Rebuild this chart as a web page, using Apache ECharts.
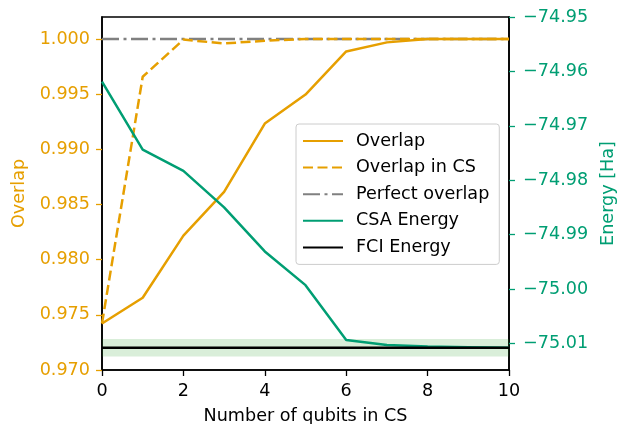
<!DOCTYPE html>
<html>
<head>
<meta charset="utf-8">
<script src="https://cdn.jsdelivr.net/npm/echarts@6/dist/echarts.min.js"></script>
<style>
html, body { margin: 0; padding: 0; background: #fff; }
#main { width: 620px; height: 424px; }
</style>
</head>
<body>
<div id="main"></div>
<script>
// qubits in the CS
var qubits = [0, 1, 2, 3, 4, 5, 6, 7, 8, 9, 10];
// overlap with the full wavefunction
var overlap = [0.97422, 0.97655, 0.98218, 0.98615, 0.99234, 0.99497, 0.99888, 0.99970, 1.0, 1.0, 1.0];
// overlap restricted to the CS
var overlapCS = [0.97422, 0.99658, 0.99995, 0.99960, 0.99985, 1.0, 1.0, 1.0, 1.0, 1.0, 1.0];
// CSA energy in Ha
var csaEnergy = [-74.9619, -74.9744, -74.9783, -74.9850, -74.9931, -74.9993, -75.0094, -75.0103, -75.0106, -75.0107, -75.0108];
var fciEnergy = -75.0108;
var chemAcc = 0.0016;
var perfect = 1.0;

var overlapTicks = [0.970, 0.975, 0.980, 0.985, 0.990, 0.995, 1.000];
var energyTicks = [-75.01, -75.00, -74.99, -74.98, -74.97, -74.96, -74.95];

var ORANGE = '#E69F00', GREEN = '#009E73';
var chart = echarts.init(document.getElementById('main'));

function pairs(ys) {
    return qubits.map(function (q, i) { return [q, ys[i]]; });
}
var font = 'DejaVu Sans';
var fs = 17.6;

var option = {
    backgroundColor: '#fff',
    animation: false,
    grid: {
        left: 102, right: 111, top: 17, bottom: 54,
        outerBoundsMode: 'none', containLabel: false,
        show: true, borderColor: '#000', borderWidth: 1.6, backgroundColor: 'transparent'
    },
    legend: {
        orient: 'vertical',
        left: 296, top: 124,
        padding: [8, 10, 8, 6],
        itemWidth: 40, itemHeight: 14, itemGap: 8.6,
        backgroundColor: 'rgba(255,255,255,0.85)',
        borderColor: '#ccc', borderWidth: 1, borderRadius: 3,
        itemStyle: { opacity: 0 },
        textStyle: { fontFamily: font, fontSize: fs, color: '#000', padding: [0, 0, 0, 8] },
        data: ['Overlap', 'Overlap in CS', 'Perfect overlap', 'CSA Energy', 'FCI Energy']
    },
    xAxis: {
        type: 'value', min: 0, max: 10, interval: 2,
        name: 'Number of qubits in CS', nameLocation: 'middle', nameGap: 37,
        nameTextStyle: { fontFamily: font, fontSize: fs, color: '#000' },
        axisLine: { lineStyle: { color: '#000', width: 1.6 } },
        axisTick: { length: 6, lineStyle: { color: '#000', width: 1.3 } },
        axisLabel: { fontFamily: font, fontSize: fs, color: '#000', margin: 12 },
        splitLine: { show: false }
    },
    yAxis: [{
        type: 'value', min: 0.970, max: 1.002, position: 'left',
        name: 'Overlap', nameLocation: 'middle', nameGap: 73,
        nameTextStyle: { fontFamily: font, fontSize: fs, color: ORANGE },
        axisLine: { show: true, lineStyle: { color: '#000', width: 1.6 } },
        axisTick: { length: 6, customValues: overlapTicks, lineStyle: { color: ORANGE, width: 1.3 } },
        axisLabel: {
            customValues: overlapTicks,
            fontFamily: font, fontSize: fs, color: ORANGE, margin: 12,
            formatter: function (v) { return v.toFixed(3); }
        },
        splitLine: { show: false }
    }, {
        type: 'value', min: -75.0149, max: -74.95, position: 'right',
        name: 'Energy [Ha]', nameLocation: 'middle', nameGap: 84, nameRotate: 90,
        nameTextStyle: { fontFamily: font, fontSize: fs, color: GREEN },
        axisLine: { show: true, lineStyle: { color: '#000', width: 1.6 } },
        axisTick: { length: 6, customValues: energyTicks, lineStyle: { color: GREEN, width: 1.3 } },
        axisLabel: {
            customValues: energyTicks,
            fontFamily: font, fontSize: fs, color: GREEN, margin: 14,
            formatter: function (v) { return '\u2212' + Math.abs(v).toFixed(2); }
        },
        splitLine: { show: false }
    }],
    series: [
        {
            name: 'Overlap', type: 'line', yAxisIndex: 0, symbol: 'none', z: 5,
            lineStyle: { color: ORANGE, width: 2.5 }, itemStyle: { color: ORANGE },
            data: pairs(overlap)
        },
        {
            name: 'Overlap in CS', type: 'line', yAxisIndex: 0, symbol: 'none', z: 5,
            lineStyle: { color: ORANGE, width: 2.5, type: [10, 4.5] }, itemStyle: { color: ORANGE },
            data: pairs(overlapCS)
        },
        {
            name: 'Perfect overlap', type: 'line', yAxisIndex: 0, symbol: 'none', z: 4,
            lineStyle: { color: '#808080', width: 2.5, type: [17, 4.5, 3, 4.5] }, itemStyle: { color: '#808080' },
            data: [[qubits[0], perfect], [qubits[qubits.length - 1], perfect]]
        },
        {
            name: 'CSA Energy', type: 'line', yAxisIndex: 1, symbol: 'none', z: 5,
            lineStyle: { color: GREEN, width: 2.5 }, itemStyle: { color: GREEN },
            data: pairs(csaEnergy)
        },
        {
            name: 'FCI Energy', type: 'line', yAxisIndex: 1, symbol: 'none', z: 6,
            lineStyle: { color: '#000', width: 2.5 }, itemStyle: { color: '#000' },
            data: [[qubits[0], fciEnergy], [qubits[qubits.length - 1], fciEnergy]],
            markArea: {
                silent: true, z: 1,
                itemStyle: { color: 'rgba(44,160,44,0.18)' },
                data: [[{ yAxis: fciEnergy - chemAcc }, { yAxis: fciEnergy + chemAcc }]]
            }
        }
    ]
};
chart.setOption(option);
</script>
</body>
</html>
